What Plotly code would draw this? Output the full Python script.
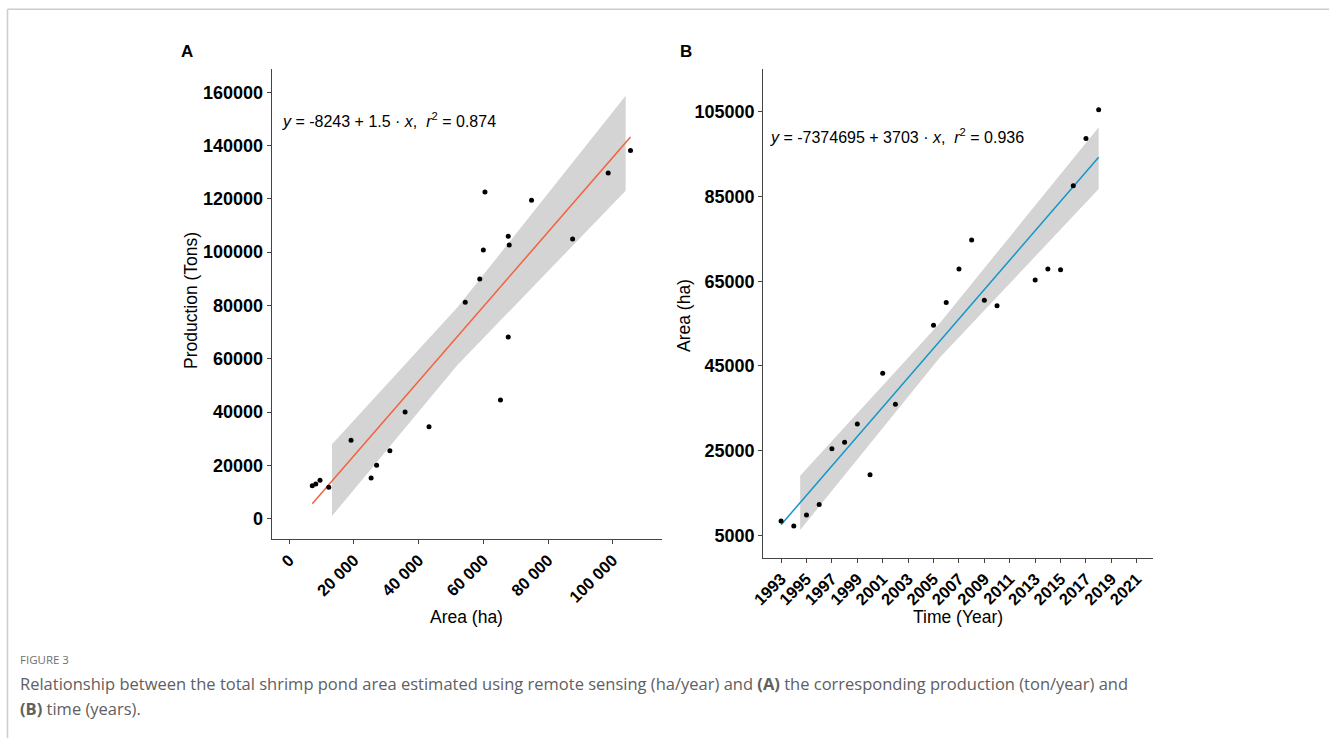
import plotly.graph_objects as go

W, H = 1329, 738

# ---------- Panel A data: area (ha) vs production (tons) ----------
area_a = [7100, 8200, 9500, 12200, 19100, 25300, 27000, 31100, 35800, 43200,
          54400, 58900, 60000, 60500, 65300, 67700, 67700, 68000, 74900, 87600,
          98600, 105500]
prod_a = [12400, 13000, 14400, 11800, 29400, 15300, 20100, 25500, 40000, 34500,
          81200, 89900, 100800, 122600, 44500, 68200, 106000, 102700, 119500, 104900,
          129700, 138100]
fit_a_x = [7100, 105500]
fit_a_y = [5600, 143200]
band_a_x = [13200, 52000, 104000]
band_a_lo = [1000, 57700, 123000]
band_a_hi = [27900, 79300, 158700]
xticks_a = [0, 20000, 40000, 60000, 80000, 100000]
xticktext_a = ["0", "20 000", "40 000", "60 000", "80 000", "100 000"]
yticks_a = [0, 20000, 40000, 60000, 80000, 100000, 120000, 140000, 160000]

# ---------- Panel B data: year vs area (ha) ----------
years_b = [1993, 1994, 1995, 1996, 1997, 1998, 1999, 2000, 2001, 2002,
           2005, 2006, 2007, 2008, 2009, 2010, 2013, 2014, 2015, 2016, 2017, 2018]
area_b = [8380, 7200, 9800, 12300, 25460, 27000, 31300, 19300, 43260, 35940,
          54600, 60000, 67900, 74750, 60500, 59230, 65300, 67900, 67700, 87580,
          98700, 105500]
fit_b_x = [1993, 2018]
fit_b_y = [7500, 94300]
band_b_x = [1994.5, 2005.5, 2018]
band_b_lo = [6250, 46970, 86800]
band_b_hi = [19080, 55150, 101400]
xticks_b = list(range(1993, 2022, 2))
yticks_b = [5000, 25000, 45000, 65000, 85000, 105000]


def px(x):
    return x / W


def py(y):
    return 1 - y / H


FONT = "Liberation Sans, Arial, sans-serif"
fig = go.Figure()

# Panel A
fig.add_trace(go.Scatter(
    x=band_a_x + band_a_x[::-1], y=band_a_hi + band_a_lo[::-1],
    fill="toself", fillcolor="#d4d4d4", line=dict(width=0), mode="lines",
    hoverinfo="skip", xaxis="x", yaxis="y", showlegend=False))
fig.add_trace(go.Scatter(
    x=fit_a_x, y=fit_a_y, mode="lines", line=dict(color="#f2613f", width=1.5),
    xaxis="x", yaxis="y", showlegend=False))
fig.add_trace(go.Scatter(
    x=area_a, y=prod_a, mode="markers", marker=dict(color="black", size=5),
    xaxis="x", yaxis="y", showlegend=False))

# Panel B
fig.add_trace(go.Scatter(
    x=band_b_x + band_b_x[::-1], y=band_b_hi + band_b_lo[::-1],
    fill="toself", fillcolor="#d4d4d4", line=dict(width=0), mode="lines",
    hoverinfo="skip", xaxis="x2", yaxis="y2", showlegend=False))
fig.add_trace(go.Scatter(
    x=fit_b_x, y=fit_b_y, mode="lines", line=dict(color="#1496c8", width=1.5),
    xaxis="x2", yaxis="y2", showlegend=False))
fig.add_trace(go.Scatter(
    x=years_b, y=area_b, mode="markers", marker=dict(color="black", size=5),
    xaxis="x2", yaxis="y2", showlegend=False))

ytickfont = dict(family=FONT, size=18, color="black", weight="bold")
xtickfont = dict(family=FONT, size=16.5, color="black", weight="bold")
axis_common = dict(showline=True, linecolor="#444", linewidth=1.2, mirror=False,
                   ticks="outside", ticklen=4, tickcolor="#444", showgrid=False,
                   zeroline=False, automargin=False)

fig.update_layout(
    template="none",
    width=W, height=H, margin=dict(l=0, r=0, t=0, b=0, pad=0, autoexpand=False),
    paper_bgcolor="white", plot_bgcolor="white", showlegend=False,
    xaxis=dict(domain=[px(271.7), px(661.7)], range=[-5440, 115150],
               tickvals=xticks_a, ticktext=xticktext_a, tickangle=-45,
               anchor="y", tickfont=xtickfont, **axis_common),
    yaxis=dict(domain=[py(539), py(69.3)], range=[-7600, 168600],
               tickvals=yticks_a, tickformat="d", anchor="x", tickfont=ytickfont,
               **axis_common),
    xaxis2=dict(domain=[px(763.3), px(1153.3)], range=[1991.6, 2022.3],
                tickvals=xticks_b, tickformat="d", tickangle=-45, anchor="y2",
                tickfont=xtickfont, **axis_common),
    yaxis2=dict(domain=[py(557.7), py(69.3)], range=[-290, 115070],
                tickvals=yticks_b, tickformat="d", anchor="x2", tickfont=ytickfont,
                **axis_common),
)

ann = []
title_font = dict(family=FONT, size=17.5, color="black")
ann.append(dict(text="Production (Tons)", x=px(191), y=py(301), textangle=-90,
                font=title_font))
ann.append(dict(text="Area (ha)", x=px(466), y=py(617), font=title_font))
ann.append(dict(text="Area (ha)", x=px(684), y=py(316), textangle=-90,
                font=title_font))
ann.append(dict(text="Time (Year)", x=px(958), y=py(617), font=title_font))
ann.append(dict(text="<b>A</b>", x=px(187), y=py(52), font=dict(family=FONT, size=17, color="black")))
ann.append(dict(text="<b>B</b>", x=px(686), y=py(52), font=dict(family=FONT, size=17, color="black")))
eq_font = dict(family=FONT, size=16, color="black")
ann.append(dict(text="<i>y</i> = -8243 + 1.5 · <i>x</i>,  <i>r</i><sup>2</sup> = 0.874",
                x=px(280), y=py(120), xanchor="left", font=eq_font))
ann.append(dict(text="<i>y</i> = -7374695 + 3703 · <i>x</i>,  <i>r</i><sup>2</sup> = 0.936",
                x=px(768), y=py(136), xanchor="left", font=eq_font))
cap_font = dict(family="Open Sans, sans-serif", size=16.5, color="#606060")
ann.append(dict(text="FIGURE 3", x=px(18), y=py(659), xanchor="left",
                font=dict(family="Open Sans, sans-serif", size=11.5, color="#707070")))
ann.append(dict(text="Relationship between the total shrimp pond area estimated using remote sensing (ha/year) and <b>(A)</b> the corresponding production (ton/year) and",
                x=px(18), y=py(683), xanchor="left", font=cap_font))
ann.append(dict(text="<b>(B)</b> time (years).", x=px(18), y=py(708), xanchor="left",
                font=cap_font))
for a in ann:
    a.update(xref="paper", yref="paper", showarrow=False)
    a.setdefault("xanchor", "center")
    a.setdefault("yanchor", "middle")
fig.update_layout(annotations=ann)

fig.update_layout(shapes=[
    dict(type="line", xref="paper", yref="paper", x0=px(7.5), x1=1, y0=py(9.3), y1=py(9.3),
         line=dict(color="#cccccc", width=1.5)),
    dict(type="line", xref="paper", yref="paper", x0=px(7.5), x1=px(7.5), y0=0, y1=py(9.3),
         line=dict(color="#cccccc", width=1.5)),
])

post = ("document.documentElement.style.margin='0';"
        "document.body.style.margin='0';document.body.style.padding='0';"
        "document.body.style.overflow='hidden';"
        "var gd=document.getElementById('{plot_id}');"
        "gd.style.position='absolute';gd.style.left='0px';gd.style.top='0px';")
fig.write_html("out.html", post_script=post, config={"displayModeBar": False})
